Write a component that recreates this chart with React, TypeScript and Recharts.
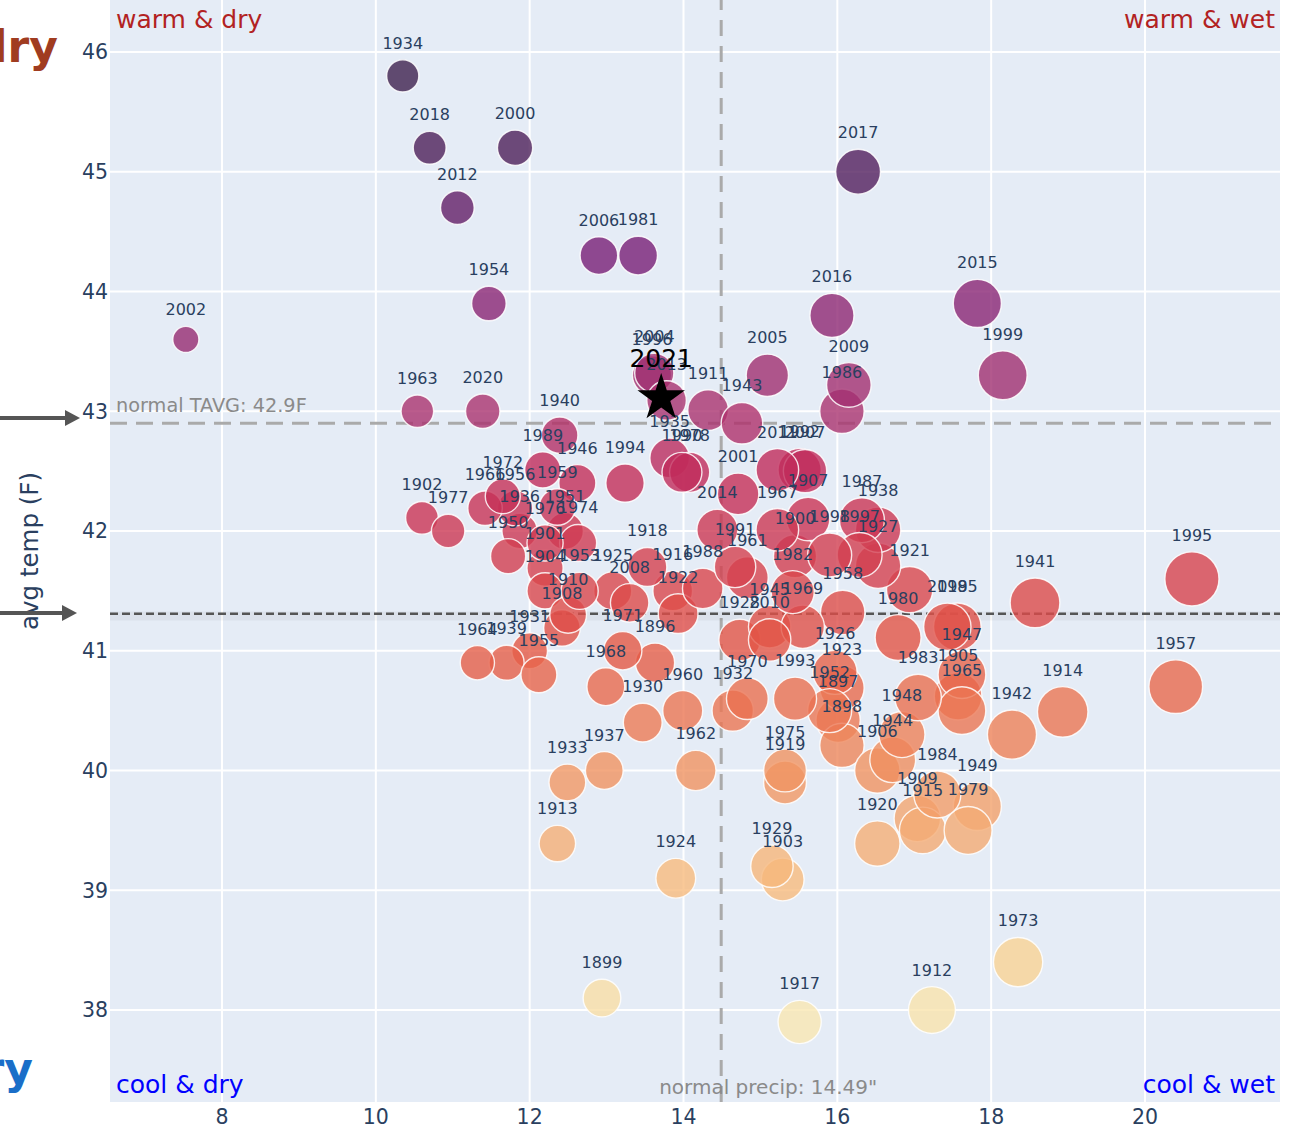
import { ScatterChart, Scatter, XAxis, YAxis, CartesianGrid, ReferenceLine } from "recharts";

// ── Data ──────────────────────────────────────────────────────────────────────
// year / annual precip (in) / avg temp (F)

const YEARS = [
  1896, 1897, 1898, 1899, 1900, 1901, 1902, 1903, 1904, 1905, 1906, 1907, 1908, 1909,
  1910, 1911, 1912, 1913, 1914, 1915, 1916, 1917, 1918, 1919, 1920, 1921, 1922, 1923,
  1924, 1925, 1926, 1927, 1928, 1929, 1930, 1931, 1932, 1933, 1934, 1935, 1936, 1937,
  1938, 1939, 1940, 1941, 1942, 1943, 1944, 1945, 1946, 1947, 1948, 1949, 1950, 1951,
  1952, 1953, 1954, 1955, 1956, 1957, 1958, 1959, 1960, 1961, 1962, 1963, 1964, 1965,
  1966, 1967, 1968, 1969, 1970, 1971, 1972, 1973, 1974, 1975, 1976, 1977, 1978, 1979,
  1980, 1981, 1982, 1983, 1984, 1985, 1986, 1987, 1988, 1989, 1990, 1991, 1992, 1993,
  1994, 1995, 1996, 1997, 1998, 1999, 2000, 2001, 2002, 2004, 2005, 2006, 2007, 2008,
  2009, 2010, 2011, 2012, 2013, 2014, 2015, 2016, 2017, 2018, 2019, 2020,
];

const PRECIP = [
  13.63, 16.01, 16.06, 12.94, 15.45, 12.20, 10.60, 15.29, 12.20, 17.57, 16.52, 15.62, 12.42, 17.04,
  12.50, 14.32, 17.23, 12.36, 18.93, 17.11, 13.86, 15.51, 13.53, 15.32, 16.52, 16.94, 13.93, 16.06,
  13.90, 13.08, 15.97, 16.53, 14.73, 15.15, 13.47, 12.00, 14.64, 12.49, 10.35, 13.82, 11.87, 12.97,
  16.53, 11.70, 12.39, 18.57, 18.27, 14.76, 16.72, 15.12, 12.62, 17.62, 16.84, 17.82, 11.72, 12.46,
  15.90, 12.65, 11.47, 12.12, 11.81, 20.40, 16.07, 12.36, 13.99, 14.83, 14.16, 10.54, 11.32, 17.62,
  11.42, 15.22, 12.99, 15.55, 14.83, 13.21, 11.65, 18.35, 12.63, 15.32, 12.20, 10.94, 14.08, 17.70,
  16.79, 13.41, 15.42, 17.05, 17.30, 17.56, 16.06, 16.32, 14.25, 12.17, 13.98, 14.67, 15.51, 15.45,
  13.24, 20.61, 13.59, 16.29, 15.90, 18.15, 11.81, 14.71, 7.53, 13.62, 15.09, 12.90, 15.58, 13.30,
  16.15, 15.12, 15.22, 11.06, 13.78, 14.44, 17.82, 15.93, 16.27, 10.70, 17.43, 11.39,
];

const TAVG = [
  40.90, 40.42, 40.21, 38.10, 41.79, 41.69, 42.11, 39.09, 41.50, 40.62, 40.00, 42.10, 41.19, 39.60,
  41.30, 43.01, 38.00, 39.39, 40.49, 39.50, 41.50, 37.90, 41.70, 39.90, 39.39, 41.51, 41.31, 40.69,
  39.10, 41.50, 40.82, 41.71, 41.09, 39.20, 40.40, 41.00, 40.50, 39.90, 45.80, 42.61, 42.00, 40.00,
  42.01, 40.90, 42.80, 41.40, 40.30, 42.90, 40.09, 41.20, 42.40, 40.80, 40.30, 39.70, 41.79, 42.00,
  40.50, 41.50, 43.90, 40.80, 42.19, 40.70, 41.32, 42.20, 40.50, 41.61, 40.00, 43.00, 40.90, 40.50,
  42.19, 42.01, 40.70, 41.20, 40.60, 41.00, 42.29, 38.40, 41.90, 40.00, 41.90, 42.00, 42.49, 39.50,
  41.11, 44.30, 41.49, 40.61, 39.80, 41.20, 43.00, 42.09, 41.52, 42.51, 42.49, 41.70, 42.51, 40.60,
  42.40, 41.60, 43.30, 41.80, 41.80, 43.30, 45.20, 42.31, 43.60, 43.32, 43.30, 44.30, 42.50, 41.40,
  43.22, 41.09, 42.51, 44.70, 43.09, 42.01, 43.90, 43.80, 45.00, 45.20, 41.20, 43.00,
];

// 2021 (partial year) star
const CURRENT_YEAR = "2021";
const CURRENT_PRECIP = 13.71;
const CURRENT_TAVG = 43.11;

const NORMAL_TAVG = 42.9;
const NORMAL_PRECIP = 14.49;
const MEAN_TAVG = 41.31;

const X_TICKS = [8, 10, 12, 14, 16, 18, 20];
const Y_TICKS = [38, 39, 40, 41, 42, 43, 44, 45, 46];

const points = YEARS.map((year, i) => ({ year, precip: PRECIP[i], temp: TAVG[i] }));
const star = [{ year: CURRENT_YEAR, precip: CURRENT_PRECIP, temp: CURRENT_TAVG }];

// ── Colours ───────────────────────────────────────────────────────────────────

const FONT = "DejaVu Sans, Verdana, sans-serif";
const INK = "#2a3f5f";
const BG: [number, number, number] = [229, 236, 246];
const OPACITY = 0.8;

// colour as seen on the plot background, by temperature
const STOPS: [number, [number, number, number]][] = [
  [37.9, [245, 232, 192]],
  [38.4, [245, 216, 168]],
  [39.0, [244, 200, 152]],
  [39.5, [241, 184, 142]],
  [40.0, [238, 165, 127]],
  [40.5, [234, 142, 116]],
  [41.0, [228, 118, 104]],
  [41.5, [220, 104, 110]],
  [42.0, [209, 92, 116]],
  [42.5, [200, 82, 122]],
  [43.0, [182, 88, 138]],
  [43.6, [166, 82, 140]],
  [44.3, [142, 72, 144]],
  [45.0, [112, 72, 124]],
  [45.8, [96, 74, 112]],
];

function tempColor(t: number): string {
  let c = STOPS[STOPS.length - 1][1];
  if (t <= STOPS[0][0]) c = STOPS[0][1];
  for (let i = 0; i < STOPS.length - 1; i++) {
    const [t0, c0] = STOPS[i];
    const [t1, c1] = STOPS[i + 1];
    if (t >= t0 && t <= t1) {
      const f = (t - t0) / (t1 - t0);
      c = [0, 1, 2].map((k) => c0[k] + (c1[k] - c0[k]) * f) as [number, number, number];
      break;
    }
  }
  // un-blend so the translucent marker lands on the seen colour
  const base = c.map((v, k) => Math.max(0, Math.min(255, Math.round((v - (1 - OPACITY) * BG[k]) / OPACITY))));
  return `rgb(${base[0]},${base[1]},${base[2]})`;
}

const radius = (precip: number) => 5 + 1.07 * precip;

// ── Shapes ────────────────────────────────────────────────────────────────────

function Bubble(props: any) {
  const { cx, cy, payload } = props;
  return (
    <circle
      cx={cx}
      cy={cy}
      r={radius(payload.precip)}
      fill={tempColor(payload.temp)}
      fillOpacity={OPACITY}
      stroke="#fff"
      strokeOpacity={0.85}
      strokeWidth={1.4}
    />
  );
}

function YearLabel(props: any) {
  const { cx, cy, payload } = props;
  return (
    <text x={cx} y={cy - radius(payload.precip) - 11} textAnchor="middle" fontSize={16} fontFamily={FONT} fill={INK}>
      {payload.year}
    </text>
  );
}

function Star(props: any) {
  const { cx, cy, payload } = props;
  const R = 25;
  const r = R * 0.382;
  const pts: string[] = [];
  for (let i = 0; i < 10; i++) {
    const a = -Math.PI / 2 + (i * Math.PI) / 5;
    const rr = i % 2 === 0 ? R : r;
    pts.push(`${cx + rr * Math.cos(a)},${cy + rr * Math.sin(a)}`);
  }
  return (
    <g>
      <polygon points={pts.join(" ")} fill="#000" />
      <text x={cx} y={cy - 31} textAnchor="middle" fontSize={25} fontFamily={FONT} fill="#000">
        {payload.year}
      </text>
    </g>
  );
}

// ── Component ─────────────────────────────────────────────────────────────────

const W = 1294;
const H = 1124;

function Arrow({ y, tip }: { y: number; tip: number }) {
  return (
    <g>
      <line x1={0} y1={y} x2={tip - 13} y2={y} stroke="#555" strokeWidth={4} />
      <polygon points={`${tip - 15},${y - 8} ${tip},${y} ${tip - 15},${y + 8}`} fill="#555" />
    </g>
  );
}

export default function App() {
  return (
    <div style={{ position: "relative", width: W, height: H, background: "#fff", overflow: "hidden" }}>
      <style>{"body{margin:0}"}</style>
      <ScatterChart width={W} height={H} margin={{ top: 0, right: 14, bottom: 0, left: 0 }}>
        <CartesianGrid fill="#e5ecf6" stroke="#fff" strokeWidth={2} horizontalValues={Y_TICKS} verticalValues={X_TICKS} />
        <XAxis
          type="number"
          dataKey="precip"
          domain={[6.544, 21.755]}
          ticks={X_TICKS}
          allowDataOverflow
          height={22}
          axisLine={false}
          tickLine={false}
          tickSize={0}
          tickMargin={7}
          tick={{ fontSize: 20.5, fill: INK, fontFamily: FONT }}
        />
        <YAxis
          type="number"
          dataKey="temp"
          domain={[37.232, 46.434]}
          ticks={Y_TICKS}
          allowDataOverflow
          width={110}
          axisLine={false}
          tickLine={false}
          tickSize={0}
          tickMargin={2}
          tick={{ fontSize: 20.5, fill: INK, fontFamily: FONT }}
        />
        <Scatter data={points} shape={Bubble} isAnimationActive={false} />

        <ReferenceLine
          y={NORMAL_TAVG}
          stroke="#aaa"
          strokeWidth={3}
          strokeDasharray="17 9"
          label={(p: any) => (
            <text x={p.viewBox.x + 6} y={p.viewBox.y - 11} fontSize={19.3} fontFamily={FONT} fill="#8a8a8a">
              normal TAVG: {NORMAL_TAVG}F
            </text>
          )}
        />
        <ReferenceLine
          x={NORMAL_PRECIP}
          stroke="#aaa"
          strokeWidth={3}
          strokeDasharray="16 10"
          label={(p: any) => (
            <text x={p.viewBox.x - 62} y={p.viewBox.y + p.viewBox.height - 8} fontSize={20} fontFamily={FONT} fill="#8a8a8a">
              normal precip: {NORMAL_PRECIP}"
            </text>
          )}
        />
        <ReferenceLine y={MEAN_TAVG - 0.02} stroke="#000" strokeOpacity={0.045} strokeWidth={9} />
        <ReferenceLine y={MEAN_TAVG} stroke="#555" strokeWidth={2.5} strokeDasharray="8 4" />

        <Scatter data={points} shape={YearLabel} isAnimationActive={false} />
        <Scatter data={star} shape={Star} isAnimationActive={false} />
      </ScatterChart>

      {/* ── Annotations outside / on the plot ─────────────────────────────── */}
      <svg width={W} height={H} style={{ position: "absolute", left: 0, top: 0, pointerEvents: "none" }}>
        <text x={58} y={62} textAnchor="end" fontSize={44} fontWeight="bold" fontFamily={FONT} fill="#a03c20">dry</text>
        <text x={33} y={1084} textAnchor="end" fontSize={44} fontWeight="bold" fontFamily={FONT} fill="#1a6ec8">ry</text>

        <text x={116} y={28} fontSize={25} fontFamily={FONT} fill="#b22222">warm &amp; dry</text>
        <text x={1275} y={28} textAnchor="end" fontSize={25} fontFamily={FONT} fill="#b22222">warm &amp; wet</text>
        <text x={116} y={1093} fontSize={25} fontFamily={FONT} fill="#0000ff">cool &amp; dry</text>
        <text x={1275} y={1093} textAnchor="end" fontSize={25} fontFamily={FONT} fill="#0000ff">cool &amp; wet</text>

        <text
          x={0}
          y={0}
          transform="translate(38,551) rotate(-90)"
          textAnchor="middle"
          fontSize={24.5}
          fontFamily={FONT}
          fill={INK}
        >
          avg temp (F)
        </text>

        <Arrow y={418} tip={80} />
        <Arrow y={613} tip={77} />
      </svg>
    </div>
  );
}
